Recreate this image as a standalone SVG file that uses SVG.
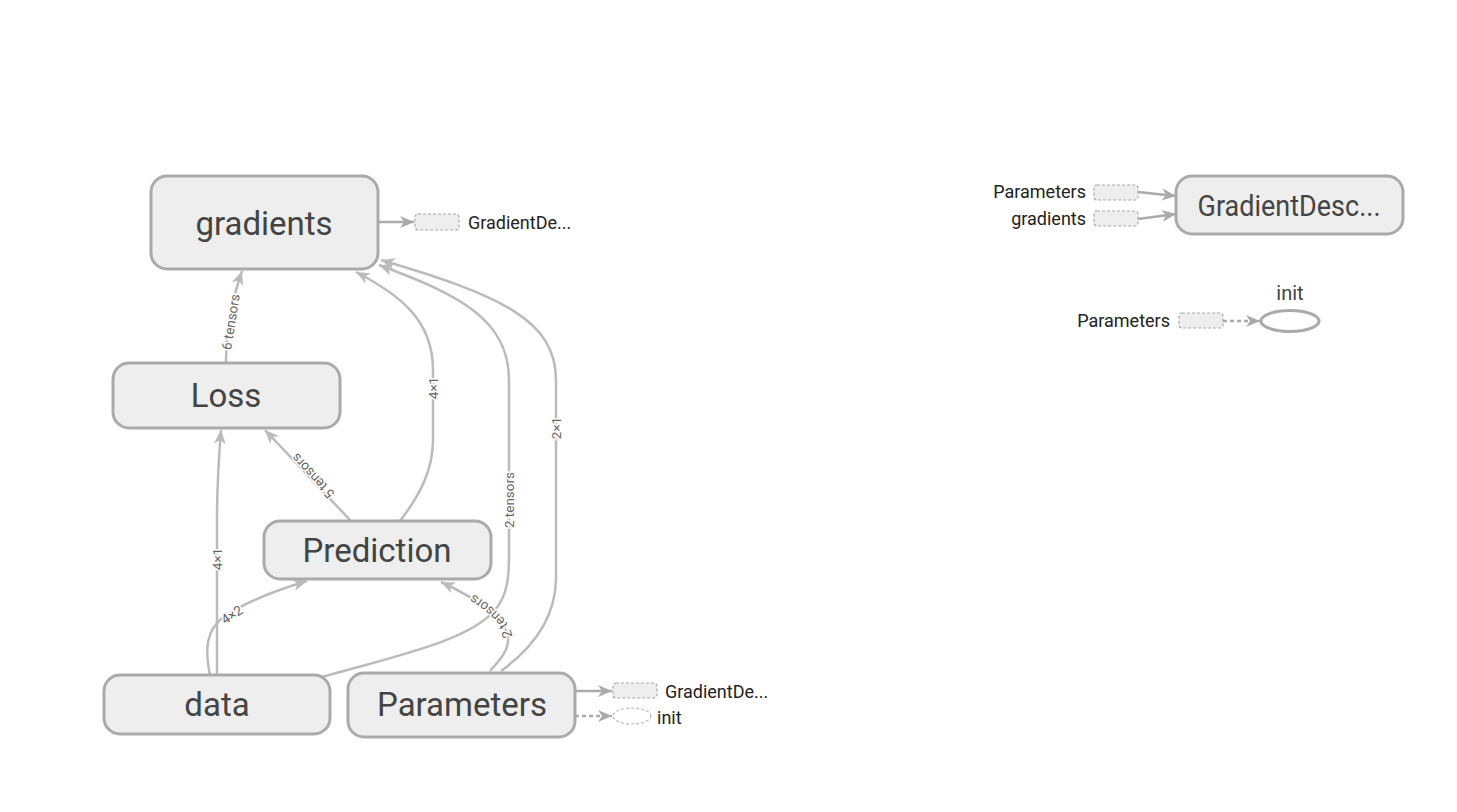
<svg xmlns="http://www.w3.org/2000/svg" width="1457" height="812" viewBox="0 0 1457 812">
<defs>
<marker id="arr" markerUnits="userSpaceOnUse" markerWidth="15" markerHeight="13" refX="14" refY="6" orient="auto" viewBox="0 0 15 12">
<path d="M0,0 L14,6 L0,12 L4,6 z" fill="#bbb"/>
</marker>
<marker id="arrd" markerUnits="userSpaceOnUse" markerWidth="15" markerHeight="13" refX="14" refY="6" orient="auto" viewBox="0 0 15 12">
<path d="M0,0 L14,6 L0,12 L4,6 z" fill="#aaa"/>
</marker>
<path id="pPP" d="M490,671 C500,660 509,650 508,638 C506,620 480,600 441,582"/>
</defs>
<style>
text{font-family:Roboto,"Liberation Sans",sans-serif}
.node rect{fill:#eee;stroke:#aaa;stroke-width:3}
.nt{fill:#444;text-anchor:middle;font-size:33px}
.edge{fill:none;stroke:#bbb;stroke-width:2.5}
.edge.out{stroke:#aaa}
.dot{fill:none;stroke:#aaa;stroke-width:2.5;stroke-dasharray:4,3}
.el{font-size:13.5px;fill:#666;text-anchor:middle;stroke:#fff;stroke-width:3;paint-order:stroke}
.stub{fill:#eee;stroke:#aaa;stroke-width:1.2;stroke-dasharray:3,2}
.stubo{fill:#fff;stroke:#bbb;stroke-width:1.2;stroke-dasharray:3,2}
.sl{font-size:18px;fill:#222}
</style>
<rect width="1457" height="812" fill="#fff"/>

<g id="connectors">
<path class="edge" d="M226,363 C226,330 232,300 242,271" marker-end="url(#arr)"/>
<path class="edge" d="M217,675 L217,520 C217,480 219,455 221,430" marker-end="url(#arr)"/>
<path class="edge" d="M210,675 C205,650 205,630 225,616 C245,603 270,592 307,581" marker-end="url(#arr)"/>
<path class="edge" d="M350,520 L265,430" marker-end="url(#arr)"/>
<path class="edge" d="M400,521 C420,495 433,470 433,440 L433,370 C433,320 400,295 356,272" marker-end="url(#arr)"/>
<path class="edge" d="M322,677 C400,655 470,640 495,610 C508,595 509,575 509,555 L509,380 C509,320 460,295 379,265" marker-end="url(#arr)"/>
<path class="edge" d="M501,671 C530,650 555,620 556,580 L556,380 C556,320 500,295 381,260" marker-end="url(#arr)"/>
<use href="#pPP" class="edge" marker-end="url(#arr)"/>
<path class="edge out" d="M378,222 L414,222" marker-end="url(#arrd)"/>
<path class="edge out" d="M575,691 L612,691" marker-end="url(#arrd)"/>
<path class="dot" d="M575,716 L612,716" marker-end="url(#arrd)"/>
<path class="edge out" d="M1138,192 L1176,196" marker-end="url(#arrd)"/>
<path class="edge out" d="M1138,219 L1176,214" marker-end="url(#arrd)"/>
<path class="dot" d="M1223,321 L1260,321" marker-end="url(#arrd)"/>

<text class="el" transform="translate(231,322) rotate(-81)" dy="4.5">6 tensors</text>
<text class="el" transform="translate(217,559) rotate(-90)" dy="4.5">4×1</text>
<text class="el" transform="translate(232,615) rotate(-33)" dy="4.5">4×2</text>
<text class="el" transform="translate(313,476) rotate(-133)" dy="4.5">5 tensors</text>
<text class="el" transform="translate(433,388) rotate(-90)" dy="4.5">4×1</text>
<text class="el" transform="translate(509,500) rotate(-90)" dy="4.5">2 tensors</text>
<text class="el" transform="translate(556,428) rotate(-90)" dy="4.5">2×1</text>
<text class="el" dy="4.5"><textPath href="#pPP" startOffset="52%">2 tensors</textPath></text>
</g>

<g id="gradients" class="node">
<rect x="151" y="176" width="227" height="93" rx="16"/>
<text class="nt" x="264" y="235">gradients</text>
</g>
<g id="gradients-out">
<rect class="stub" x="415" y="214" width="44" height="16" rx="3"/>
<text class="sl" x="468" y="229">GradientDe...</text>
</g>
<g id="Loss" class="node">
<rect x="113" y="363" width="227" height="65" rx="16"/>
<text class="nt" x="226" y="407">Loss</text>
</g>
<g id="Prediction" class="node">
<rect x="264" y="521" width="227" height="58" rx="16"/>
<text class="nt" x="377" y="562">Prediction</text>
</g>
<g id="data" class="node">
<rect x="104" y="675" width="226" height="59" rx="16"/>
<text class="nt" x="217" y="716">data</text>
</g>
<g id="Parameters" class="node">
<rect x="348" y="673" width="227" height="64" rx="16"/>
<text class="nt" x="462" y="716">Parameters</text>
</g>
<g id="Parameters-out">
<rect class="stub" x="613" y="683" width="44" height="15" rx="3"/>
<text class="sl" x="665" y="698">GradientDe...</text>
<ellipse class="stubo" cx="632" cy="716" rx="19" ry="8"/>
<text class="sl" x="657" y="724">init</text>
</g>

<g id="GradientDescent" class="node">
<rect x="1176" y="176" width="227" height="58" rx="16"/>
<text class="nt" x="1289" y="216" style="font-size:29px" textLength="183" lengthAdjust="spacingAndGlyphs">GradientDesc...</text>
</g>
<g id="GradientDescent-in">
<rect class="stub" x="1094" y="185" width="44" height="15" rx="3"/>
<text class="sl" x="1086" y="198" text-anchor="end">Parameters</text>
<rect class="stub" x="1094" y="211" width="44" height="15" rx="3"/>
<text class="sl" x="1086" y="225" text-anchor="end">gradients</text>
</g>
<g id="init">
<ellipse cx="1290" cy="321" rx="29" ry="10.5" fill="#fff" stroke="#aaa" stroke-width="3"/>
<text x="1290" y="300" text-anchor="middle" font-size="20" fill="#444">init</text>
</g>
<g id="init-in">
<rect class="stub" x="1179" y="313" width="44" height="15" rx="3"/>
<text class="sl" x="1170" y="327" text-anchor="end">Parameters</text>
</g>
</svg>
